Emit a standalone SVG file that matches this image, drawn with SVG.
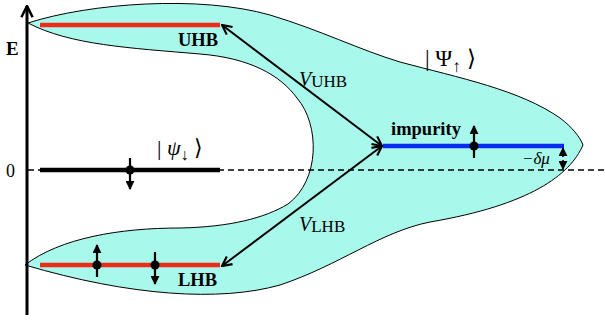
<svg xmlns="http://www.w3.org/2000/svg" width="605" height="325" viewBox="0 0 605 325">
<defs>
<style>
.band{stroke-width:4.5;fill:none}
.lbl{font-family:"Liberation Serif","Times New Roman",serif;fill:#000}
.b{font-weight:bold;font-size:18.5px}
.conn{stroke:#000;stroke-width:2;fill:none}
.spin{stroke:#000;stroke-width:2.2;fill:none}
</style>
<marker id="open" viewBox="0 0 10 10" refX="9" refY="5" markerWidth="12" markerHeight="12" markerUnits="userSpaceOnUse" orient="auto-start-reverse">
<path d="M1,1 L9,5 L1,9" fill="none" stroke="#000" stroke-width="1.8"/>
</marker>
<marker id="tri" viewBox="0 0 10 10" refX="9" refY="5" markerWidth="9" markerHeight="9" markerUnits="userSpaceOnUse" orient="auto">
<path d="M0,0 L10,5 L0,10 Z" fill="#000"/>
</marker>
<marker id="axis" viewBox="0 0 10 10" refX="9" refY="5" markerWidth="14" markerHeight="14" markerUnits="userSpaceOnUse" orient="auto">
<path d="M1,1 L9,5 L1,9" fill="none" stroke="#000" stroke-width="1.8"/>
</marker>
</defs>
<rect width="605" height="325" fill="#fff"/>
<g id="region">
<path d="M28,23 C90,3 200,-5 270,15 C320,30 360,50 400,62 C460,78 520,90 560,118 C572,127 580,137 583,145 C570,175 530,205 430,222 C380,232 340,265 280,285 C220,302 130,296 25,265 C60,238 120,228 180,228 C230,227 265,218 288,204 C320,180 320,125 297,98 C280,75 250,58 200,54 C130,48 70,45 28,23 Z" fill="#a9f8ec" stroke="#000" stroke-width="1"/>
</g>
<g id="axis-g">
<line x1="27" y1="315" x2="27" y2="6" stroke="#000" stroke-width="3" marker-end="url(#axis)"/>
<text class="lbl" x="6" y="55" font-size="19" font-weight="bold">E</text>
<text class="lbl" x="6" y="177" font-size="18">0</text>
<line x1="28" y1="170" x2="605" y2="170" stroke="#000" stroke-width="1.6" stroke-dasharray="6,4"/>
</g>
<g id="uhb">
<line class="band" x1="40" y1="25" x2="220" y2="25" stroke="#ee2a18"/>
<text class="lbl b" x="178" y="46">UHB</text>
</g>
<g id="lhb">
<line class="band" x1="40" y1="265" x2="220" y2="265" stroke="#ee2a18"/>
<text class="lbl b" x="178" y="286">LHB</text>
<circle cx="97" cy="265" r="4.5"/>
<line class="spin" x1="97" y1="277" x2="97" y2="245" marker-end="url(#tri)"/>
<circle cx="155" cy="265" r="4.5"/>
<line class="spin" x1="155" y1="252" x2="155" y2="284" marker-end="url(#tri)"/>
</g>
<g id="psi-down">
<line x1="40" y1="170" x2="220" y2="170" stroke="#000" stroke-width="4.5"/>
<circle cx="130" cy="170" r="4.5"/>
<line class="spin" x1="130" y1="158" x2="130" y2="189" marker-end="url(#tri)"/>
<text class="lbl" x="157" y="155" font-size="22">| <tspan font-style="italic">ψ</tspan><tspan font-size="16" dy="5">↓</tspan><tspan dy="-5"> ⟩</tspan></text>
</g>
<g id="impurity">
<line class="band" x1="383" y1="146" x2="564" y2="146" stroke="#0a2cf0"/>
<text class="lbl b" x="391" y="135">impurity</text>
<circle cx="474" cy="146" r="4.5"/>
<line class="spin" x1="474" y1="158" x2="474" y2="126" marker-end="url(#tri)"/>
<line x1="563" y1="157" x2="563" y2="148" stroke="#000" stroke-width="1.6" marker-end="url(#tri)"/>
<line x1="563" y1="160" x2="563" y2="169" stroke="#000" stroke-width="1.6" marker-end="url(#tri)"/>
<text class="lbl" x="522" y="164" font-size="17" font-style="italic">−δμ</text>
</g>
<g id="psi-up">
<text class="lbl" x="425" y="66" font-size="23">| Ψ<tspan font-size="17" dy="6">↑</tspan><tspan dy="-6"> ⟩</tspan></text>
</g>
<g id="connectors">
<line class="conn" x1="382" y1="146" x2="222" y2="25" marker-start="url(#open)" marker-end="url(#open)"/>
<line class="conn" x1="382" y1="146" x2="222" y2="266" marker-start="url(#open)" marker-end="url(#open)"/>
<text class="lbl" x="299" y="86" font-size="20"><tspan font-style="italic">V</tspan><tspan font-size="17" dy="1">UHB</tspan></text>
<text class="lbl" x="299" y="231" font-size="20"><tspan font-style="italic">V</tspan><tspan font-size="17" dy="1">LHB</tspan></text>
</g>
</svg>
